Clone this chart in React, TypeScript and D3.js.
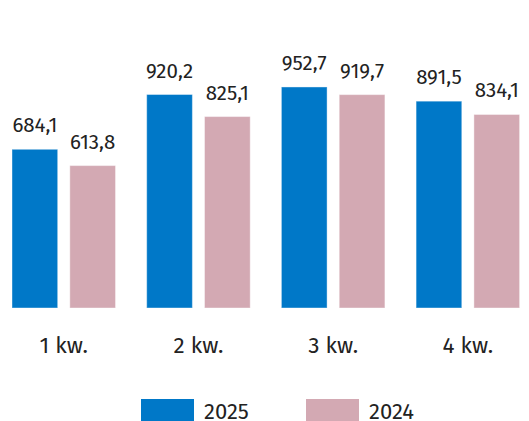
import React from "react";
import * as d3 from "d3";

const categories = ["1 kw.", "2 kw.", "3 kw.", "4 kw."];
const seriesNames = ["2025", "2024"];
const values2025 = [684.1, 920.2, 952.7, 891.5];
const values2024 = [613.8, 825.1, 919.7, 834.1];
const colors = ["#0078c8", "#d3a9b3"];

const W = 529;
const H = 421;

export default function App() {
  const x0 = d3.scaleBand<string>().domain(categories).range([12, 519.6]).paddingInner(0.2316).paddingOuter(0);
  const x1 = d3.scaleBand<string>().domain(seriesNames).range([0, x0.bandwidth()]).paddingInner(0.21);
  const y = d3.scaleLinear().domain([0, 1000]).range([308, 76]);
  const fmt = (v: number) => v.toFixed(1).replace(".", ",");
  const font = "'Fira Sans', 'Noto Sans', 'Open Sans', sans-serif";
  const data = [values2025, values2024];

  return (
    <svg width={W} height={H} style={{ position: "absolute", left: 0, top: 0, background: "#fff" }} fontFamily={font}>
      {categories.map((c, i) => (
        <g key={c} transform={`translate(${x0(c)},0)`}>
          {seriesNames.map((s, si) => {
            const v = data[si][i];
            const bx = x1(s)!;
            return (
              <g key={s}>
                <rect x={bx} y={y(v)} width={x1.bandwidth()} height={y(0) - y(v)} fill={colors[si]} stroke="#ffffff" strokeOpacity={0.4} strokeWidth={1} />
                <text x={bx + x1.bandwidth() / 2} y={y(v) - 17} textAnchor="middle" fontSize={20.5} fill="#222">
                  {fmt(v)}
                </text>
              </g>
            );
          })}
          <text x={x0.bandwidth() / 2} y={353} textAnchor="middle" fontSize={22.5} fill="#222">
            {c}
          </text>
        </g>
      ))}
      {seriesNames.map((s, si) => {
        const lx = 141 + si * 165;
        return (
          <g key={s}>
            <rect x={lx} y={399} width={53} height={24} fill={colors[si]} />
            <text x={lx + 63} y={419} fontSize={22} fill="#222">
              {s}
            </text>
          </g>
        );
      })}
    </svg>
  );
}
